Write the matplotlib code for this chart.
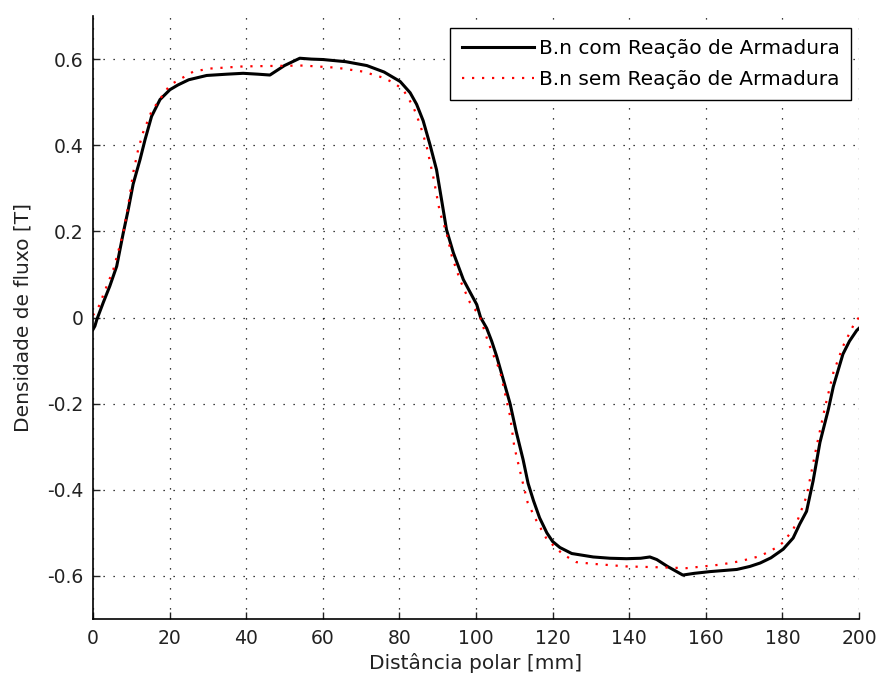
import matplotlib
matplotlib.use("Agg")
import matplotlib.pyplot as plt

# Black curve: B.n com Reação de Armadura
x_com = [0, 0.5, 1.0, 2.7, 4.4, 6.2, 7.9, 9.2, 10.5, 12.3, 13.6, 15.3, 17.5, 20.1, 22.2,
         25, 29.7, 35, 39.2, 43, 46.2, 50, 54, 57, 60, 66, 71.5, 76, 80.2, 82.8, 84.5,
         86.2, 88, 89.7, 91, 92.3, 94.1, 96.7, 98.5, 100.2, 101.2, 102.8, 104.1, 105.4,
         107, 108.9, 110.5, 112.3, 113.6, 115, 116.6, 118.5, 120, 121.9, 125, 130.6,
         135, 139.3, 143, 145.4, 147.2, 150, 154, 157, 161.1, 168.1, 171.5, 174.2, 177,
         180.2, 182.8, 184.5, 186.3, 188, 189.8, 192, 193.3, 195.8, 197.5, 199.4, 200]
y_com = [-0.028, -0.02, -0.005, 0.035, 0.073, 0.119, 0.196, 0.25, 0.31, 0.367, 0.413,
         0.467, 0.506, 0.529, 0.54, 0.552, 0.562, 0.565, 0.567, 0.565, 0.563, 0.585,
         0.602, 0.600, 0.599, 0.594, 0.585, 0.570, 0.548, 0.522, 0.495, 0.457, 0.401,
         0.343, 0.274, 0.204, 0.15, 0.088, 0.058, 0.03, 0.0, -0.025, -0.055, -0.09,
         -0.14, -0.20, -0.265, -0.33, -0.385, -0.425, -0.465, -0.50, -0.52, -0.534,
         -0.548, -0.556, -0.559, -0.560, -0.559, -0.556, -0.562, -0.578, -0.598, -0.594,
         -0.590, -0.585, -0.578, -0.570, -0.558, -0.538, -0.512, -0.48, -0.45, -0.38,
         -0.29, -0.213, -0.16, -0.085, -0.055, -0.03, -0.025]

# Red dotted curve: B.n sem Reação de Armadura
x_sem = [0, 1.8, 2.7, 5.3, 7.9, 9.2, 10.5, 11.8, 13.1, 15.3, 17.1, 20.1, 21.7, 26.2, 30.5,
         39.2, 46.2, 54.9, 63.6, 70.5, 75.7, 78.5, 81, 83.6, 85.4, 87.1, 88.9, 90.6, 92.3,
         93.7, 95.8, 98.4, 101, 103.2, 106.3, 108.9, 110, 111.9, 113.5, 115.8, 118.5,
         122.7, 126.2, 130.6, 139.3, 148, 154.9, 159.3, 163.6, 168.9, 174.2, 178.5,
         180.2, 182.8, 184, 186.3, 188.9, 191, 193.3, 195.8, 199, 200]
y_sem = [0.005, 0.03, 0.053, 0.111, 0.196, 0.26, 0.336, 0.39, 0.43, 0.479, 0.502, 0.54,
         0.548, 0.571, 0.578, 0.583, 0.584, 0.585, 0.580, 0.571, 0.557, 0.545, 0.529,
         0.49, 0.448, 0.398, 0.324, 0.243, 0.197, 0.142, 0.088, 0.035, 0.003, -0.058,
         -0.125, -0.229, -0.30, -0.372, -0.43, -0.472, -0.515, -0.55, -0.568, -0.572,
         -0.578, -0.580, -0.582, -0.578, -0.574, -0.566, -0.554, -0.534, -0.522, -0.492,
         -0.47, -0.415, -0.30, -0.213, -0.128, -0.067, -0.01, 0.0]

x_ticks = [0, 20, 40, 60, 80, 100, 120, 140, 160, 180, 200]
y_ticks = [-0.6, -0.4, -0.2, 0, 0.2, 0.4, 0.6]
y_tick_labels = ["-0.6", "-0.4", "-0.2", "0", "0.2", "0.4", "0.6"]

plt.rcParams['font.family'] = ['DejaVu Sans']
plt.rcParams['font.size'] = 13.5

fig = plt.figure(figsize=(8.77, 6.82), dpi=100)
ax = fig.add_axes([0.106, 0.0924, 0.8735, 0.8841])

ax.plot(x_com, y_com, color='black', lw=2.2, label='B.n com Reação de Armadura')
ax.plot(x_sem, y_sem, color='red', lw=1.6, linestyle=(0, (1, 3.5)),
        label='B.n sem Reação de Armadura')

ax.set_xlim(0, 200)
ax.set_ylim(-0.7, 0.7)
ax.set_xticks(x_ticks)
ax.set_yticks(y_ticks)
ax.set_yticklabels(y_tick_labels)
ax.tick_params(direction='in', length=5, width=1, colors='#222222', labelcolor='#222222',
               labelsize=13.5)
ax.tick_params(axis='x', pad=7)
ax.tick_params(axis='y', pad=7)
ax.grid(True, color='black', linestyle=(0, (1, 7)), linewidth=0.9)
ax.spines['top'].set_visible(False)
ax.spines['right'].set_visible(False)
ax.spines['left'].set_linewidth(1.2)
ax.spines['bottom'].set_linewidth(1.2)

ax.set_xlabel('Distância polar [mm]', color='#222222', labelpad=4, fontsize=14.5)
ax.set_ylabel('Densidade de fluxo [T]', color='#222222', labelpad=10, fontsize=14.5)

leg = ax.legend(loc='upper right', bbox_to_anchor=(0.9896, 0.980), borderaxespad=0,
                frameon=True, fancybox=False, edgecolor='black', framealpha=1,
                handlelength=3.6, handletextpad=0.25, borderpad=0.55, labelspacing=0.6,
                fontsize=14.5)
leg.get_frame().set_linewidth(1.0)

fig.savefig('out.png', dpi=100)
